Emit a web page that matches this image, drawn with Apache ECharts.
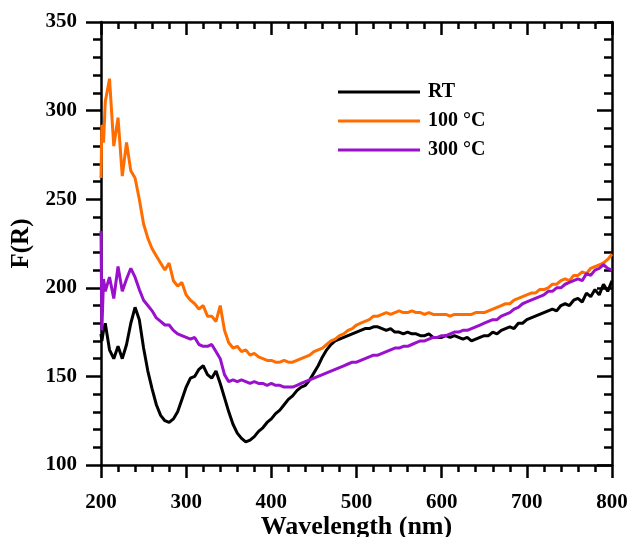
<!DOCTYPE html>
<html>
<head>
<meta charset="utf-8">
<script src="https://cdn.jsdelivr.net/npm/echarts@6/dist/echarts.min.js"></script>
<style>
	html, body { margin: 0; padding: 0; background: #fff; }
	#chart1 { width: 630px; height: 537px; }
</style>
</head>
<body>
<div id="chart1"></div>
<script>
// wavelength (nm)
var wavelength = [200, 201, 203,
	205, 210, 215, 220, 225, 230, 235, 240, 245, 250, 255, 260, 265, 270, 275, 280, 285, 290, 295, 300,
	305, 310, 315, 320, 325, 330, 335, 340, 345, 350, 355, 360, 365, 370, 375, 380, 385, 390, 395, 400,
	405, 410, 415, 420, 425, 430, 435, 440, 445, 450, 455, 460, 465, 470, 475, 480, 485, 490, 495, 500,
	505, 510, 515, 520, 525, 530, 535, 540, 545, 550, 555, 560, 565, 570, 575, 580, 585, 590, 595, 600,
	605, 610, 615, 620, 625, 630, 635, 640, 645, 650, 655, 660, 665, 670, 675, 680, 685, 690, 695, 700,
	705, 710, 715, 720, 725, 730, 735, 740, 745, 750, 755, 760, 765, 770, 775, 780, 785, 790, 795, 800];

var rtList = [174, 170, 176,
	180, 165, 160, 167, 160, 168, 180, 189, 182, 166, 153, 143, 134, 128, 125, 124, 126, 130, 137, 144,
	149, 150, 154, 156, 151, 149, 153, 146, 138, 130, 123, 118, 115, 113, 114, 116, 119, 121, 124, 126,
	129, 131, 134, 137, 139, 142, 144, 145, 148, 152, 156, 161, 165, 168, 170, 171, 172, 173, 174, 175,
	176, 177, 177, 178, 178, 177, 176, 177, 175, 175, 174, 175, 174, 174, 173, 173, 174, 172, 172, 172,
	173, 172, 173, 172, 171, 172, 170, 171, 172, 173, 173, 175, 174, 176, 177, 178, 177, 180, 180, 182,
	183, 184, 185, 186, 187, 188, 187, 190, 191, 190, 193, 194, 192, 197, 195, 199, 196, 202, 198, 204];

var c100List = [262, 292, 282,
	305, 318, 280, 296, 263, 282, 266, 262, 250, 236, 228, 222, 218, 214, 210, 214, 204, 201, 203, 196,
	193, 191, 188, 190, 184, 184, 181, 190, 176, 169, 166, 167, 164, 165, 162, 163, 161, 160, 159, 159,
	158, 158, 159, 158, 158, 159, 160, 161, 162, 164, 165, 166, 168, 170, 171, 173, 174, 176, 177, 179,
	180, 181, 182, 184, 184, 185, 186, 185, 186, 187, 186, 186, 187, 186, 186, 185, 186, 185, 185, 185,
	185, 184, 185, 185, 185, 185, 185, 186, 186, 186, 187, 188, 189, 190, 191, 191, 193, 194, 195, 196,
	197, 197, 199, 199, 200, 202, 202, 204, 205, 204, 207, 207, 209, 208, 211, 212, 213, 214, 216, 219];

var c300List = [232, 176, 205,
	198, 206, 194, 212, 198, 205, 211, 206, 199, 193, 190, 187, 183, 181, 179, 179, 176, 174, 173, 172,
	171, 172, 168, 167, 167, 168, 164, 160, 151, 147, 148, 147, 148, 147, 146, 147, 146, 146, 145, 146,
	145, 145, 144, 144, 144, 145, 146, 147, 148, 149, 150, 151, 152, 153, 154, 155, 156, 157, 158, 158,
	159, 160, 161, 162, 162, 163, 164, 165, 166, 166, 167, 167, 168, 169, 170, 170, 171, 172, 172, 173,
	173, 174, 175, 175, 176, 176, 177, 178, 179, 180, 181, 182, 182, 184, 185, 186, 188, 189, 191, 192,
	193, 194, 195, 196, 198, 198, 200, 200, 202, 203, 204, 205, 204, 208, 207, 210, 211, 213, 211, 210];

var legenderList = ['RT', '100 °C', '300 °C'];
var xTicks = [200, 300, 400, 500, 600, 700, 800];
var yTicks = [100, 150, 200, 250, 300, 350];

(function() {
	var font = 'Liberation Serif';

	function pairs(ys) {
		var out = [];
		for (var i = 0; i < wavelength.length; i++) {
			out.push([wavelength[i], ys[i]]);
		}
		return out;
	}

	function xAxisOf(pos, labels) {
		return {
			type: 'value',
			position: pos,
			min: xTicks[0],
			max: xTicks[xTicks.length - 1],
			interval: 100,
			axisLine: { show: true, onZero: false, lineStyle: { color: '#000', width: 2.5 } },
			axisTick: { show: true, inside: !labels, length: 13, lineStyle: { color: '#000', width: 2.5 } },
			minorTick: { show: true, splitNumber: 5, length: 7, lineStyle: { color: '#000', width: 2.5 } },
			splitLine: { show: false },
			axisLabel: {
				show: labels, margin: 27, color: '#000',
				fontFamily: font, fontWeight: 'bold', fontSize: 21
			},
			name: labels ? 'Wavelength (nm)' : '',
			nameLocation: 'middle',
			nameGap: 49,
			nameMoveOverlap: false,
			nameTextStyle: { color: '#000', fontFamily: font, fontWeight: 'bold', fontSize: 26 }
		};
	}

	function yAxisOf(pos, labels) {
		return {
			type: 'value',
			position: pos,
			min: yTicks[0],
			max: yTicks[yTicks.length - 1],
			interval: 50,
			axisLine: { show: true, onZero: false, lineStyle: { color: '#000', width: 2.5 } },
			axisTick: { show: true, inside: !labels, length: 15, lineStyle: { color: '#000', width: 2.5 } },
			minorTick: { show: true, splitNumber: 5, length: 8, lineStyle: { color: '#000', width: 2.5 } },
			splitLine: { show: false },
			axisLabel: {
				show: labels, margin: 24, color: '#000',
				fontFamily: font, fontWeight: 'bold', fontSize: 21
			},
			name: labels ? 'F(R)' : '',
			nameLocation: 'middle',
			nameGap: 67,
			nameMoveOverlap: false,
			nameTextStyle: { color: '#000', fontFamily: font, fontWeight: 'bold', fontSize: 25 }
		};
	}

	var colors = ['#000000', '#ff6d00', '#9a10cc'];
	var lists = [rtList, c100List, c300List];
	var series = [];
	for (var k = 0; k < lists.length; k++) {
		series.push({
			name: legenderList[k],
			type: 'line',
			xAxisIndex: 0,
			yAxisIndex: 0,
			showSymbol: false,
			symbol: 'none',
			data: pairs(lists[k]),
			lineStyle: { color: colors[k], width: 3 },
			itemStyle: { color: colors[k] }
		});
	}

	var chart = echarts.init(document.getElementById('chart1'));
	chart.setOption({
		animation: false,
		grid: { left: 101, right: 18, top: 22, bottom: 72, containLabel: false, outerBoundsMode: 'none' },
		legend: {
			data: legenderList,
			orient: 'vertical',
			left: 338,
			top: 82,
			padding: 0,
			icon: 'rect',
			itemWidth: 82,
			itemHeight: 3,
			itemGap: 9,
			textStyle: {
				color: '#000', fontFamily: font, fontWeight: 'bold', fontSize: 20,
				lineHeight: 20, padding: [0, 0, 0, 3]
			}
		},
		xAxis: [xAxisOf('bottom', true), xAxisOf('top', false)],
		yAxis: [yAxisOf('left', true), yAxisOf('right', false)],
		series: series
	});
})();
</script>
</body>
</html>
